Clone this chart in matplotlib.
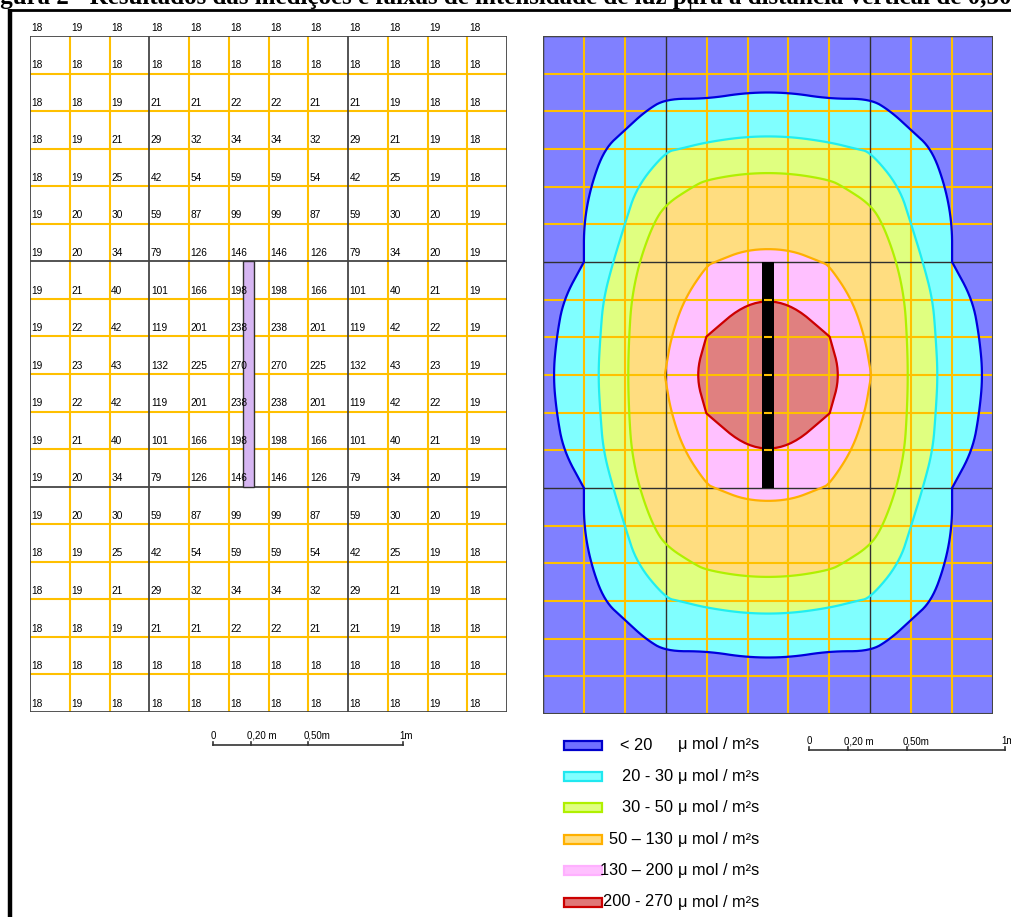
import numpy as np
import matplotlib
matplotlib.use("Agg")
import matplotlib.pyplot as plt
from matplotlib.patches import Rectangle, Polygon
import contourpy

# ---------------- data ----------------
title = ("Figura 2 - Resultados das medições e faixas de intensidade de luz "
         "para a distância vertical de 0,50 m")

row00 = [18, 19, 18, 18, 18, 18, 18, 18, 18, 18, 19, 18]
row01 = [18, 18, 18, 18, 18, 18, 18, 18, 18, 18, 18, 18]
row02 = [18, 18, 19, 21, 21, 22, 22, 21, 21, 19, 18, 18]
row03 = [18, 19, 21, 29, 32, 34, 34, 32, 29, 21, 19, 18]
row04 = [18, 19, 25, 42, 54, 59, 59, 54, 42, 25, 19, 18]
row05 = [19, 20, 30, 59, 87, 99, 99, 87, 59, 30, 20, 19]
row06 = [19, 20, 34, 79, 126, 146, 146, 126, 79, 34, 20, 19]
row07 = [19, 21, 40, 101, 166, 198, 198, 166, 101, 40, 21, 19]
row08 = [19, 22, 42, 119, 201, 238, 238, 201, 119, 42, 22, 19]
row09 = [19, 23, 43, 132, 225, 270, 270, 225, 132, 43, 23, 19]
row10 = [19, 22, 42, 119, 201, 238, 238, 201, 119, 42, 22, 19]
row11 = [19, 21, 40, 101, 166, 198, 198, 166, 101, 40, 21, 19]
row12 = [19, 20, 34, 79, 126, 146, 146, 126, 79, 34, 20, 19]
row13 = [19, 20, 30, 59, 87, 99, 99, 87, 59, 30, 20, 19]
row14 = [18, 19, 25, 42, 54, 59, 59, 54, 42, 25, 19, 18]
row15 = [18, 19, 21, 29, 32, 34, 34, 32, 29, 21, 19, 18]
row16 = [18, 18, 19, 21, 21, 22, 22, 21, 21, 19, 18, 18]
row17 = [18, 18, 18, 18, 18, 18, 18, 18, 18, 18, 18, 18]
row18 = [18, 19, 18, 18, 18, 18, 18, 18, 18, 18, 19, 18]
rows = [row00, row01, row02, row03, row04, row05, row06, row07, row08, row09,
        row10, row11, row12, row13, row14, row15, row16, row17, row18]

levels = [0, 20, 30, 50, 130, 200, 300]
band_labels = ["< 20", "20 - 30", "30 - 50", "50 – 130", "130 – 200", "200 - 270"]
unit = "μ mol / m²s"
scale_ticks = [0, 0.2, 0.5, 1.0]
scale_labels = ["0", "0,20 m", "0,50m", "1m"]

# ---------------- styles ----------------
fills = ["#8080ff", "#80ffff", "#e0ff80", "#ffdd80", "#ffc0ff", "#e08080"]
legend_fills = ["#7070ff", "#80ffff", "#e0ff80", "#ffdd80", "#ffc0ff", "#e07878"]
legend_edges = ["#0000cc", "#20e8f0", "#b0f000", "#ffb000", "#ffb0ff", "#cc0000"]
line_colors = ["#0000dd", "#20eef0", "#b0f000", "#ffb000", "#cc0000"]
ORANGE = "#ffc000"
DARK = "#454545"
FONT = "Liberation Sans"

values = np.array(rows, dtype=float)
nrow, ncol = values.shape

W, H = 1011, 917
fig = plt.figure(figsize=(W / 100, H / 100), dpi=100)


def box(x0, y0, x1, y1):
    return [x0 / W, 1 - y1 / H, (x1 - x0) / W, (y1 - y0) / H]


def smooth_closed(p, n=3):
    """Corner-cutting smoothing of a closed contour outline (drawing only)."""
    if np.allclose(p[0], p[-1]):
        p = p[:-1]
    for _ in range(n):
        nxt = np.roll(p, -1, axis=0)
        out = np.empty((2 * len(p), 2))
        out[0::2] = 0.75 * p + 0.25 * nxt
        out[1::2] = 0.25 * p + 0.75 * nxt
        p = out
    return p


# overlay axes in pixel units for frame, title, legend, scale bars
ov = fig.add_axes([0, 0, 1, 1])
ov.set_xlim(0, W)
ov.set_ylim(H, 0)
ov.axis("off")

ov.text(-22, 4, title, fontfamily="Liberation Serif", fontweight="bold",
        fontsize=18, ha="left", va="baseline")
ov.plot([10, 10], [9, H + 5], color="black", lw=3.2, solid_capstyle="butt")
ov.plot([8, W + 5], [10, 10], color="black", lw=2.0, solid_capstyle="butt")
ov.plot([690, 690], [-2, 10], color="black", lw=1.0)

# ---------------- left panel: measured values ----------------
axL = fig.add_axes(box(30, 36, 507, 712))
axL.set_xlim(0, ncol)
axL.set_ylim(nrow - 1, 0)
axL.axis("off")
dark_cols = [0, 3, 8, ncol]
dark_rows = [0, 6, 12, nrow - 1]
for i in range(ncol + 1):
    dk = i in dark_cols
    axL.axvline(i, color=DARK if dk else ORANGE, lw=1.3 if dk else 1.5,
                zorder=3 if dk else 2)
for j in range(nrow):
    dk = j in dark_rows
    axL.axhline(j, color=DARK if dk else ORANGE, lw=1.3 if dk else 1.5,
                zorder=3 if dk else 2)
axL.add_patch(Rectangle((5.5 - 0.13, 6), 0.26, 6, fc="#d6b6f2", ec="#303030",
                        lw=1.0, zorder=4))
for r in range(nrow):
    for c in range(ncol):
        axL.text(c + 0.04, r - 0.09, str(int(values[r, c])), fontsize=7.3,
                 fontfamily=FONT, ha="left", va="bottom", zorder=5)

# ---------------- right panel: contour bands ----------------
axR = fig.add_axes(box(543, 36, 993, 714))
axR.set_xlim(0, ncol - 1)
axR.set_ylim(nrow - 1, 0)
axR.axis("off")
X, Y = np.meshgrid(np.arange(ncol, dtype=float), np.arange(nrow, dtype=float))
# lowest band covers the whole field
axR.contourf(X, Y, values, levels=[levels[0], levels[-1]], colors=[fills[0]], zorder=1)
gen = contourpy.contour_generator(X, Y, values, line_type="Separate")
for k, lev in enumerate(levels[1:-1]):
    for seg in gen.lines(lev):
        pts = smooth_closed(seg, 3)
        axR.add_patch(Polygon(pts, closed=True, fc=fills[k + 1], ec="none",
                              zorder=1 + 0.01 * k))
        axR.add_patch(Polygon(pts, closed=True, fill=False, ec=line_colors[k],
                              lw=1.6, zorder=3 + 0.01 * k))
for i in range(ncol):
    dk = i in (0, 3, 8, ncol - 1)
    axR.axvline(i, color="#303030" if dk else ORANGE, lw=1.0 if dk else 1.5,
                zorder=2.5 if dk else 2)
for j in range(nrow):
    dk = j in dark_rows
    axR.axhline(j, color="#303030" if dk else ORANGE, lw=1.0 if dk else 1.5,
                zorder=2.5 if dk else 2)
axR.add_patch(Rectangle((5.5 - 0.15, 6), 0.3, 6, fc="black", ec="none", zorder=4))
for j in range(7, 12):
    axR.plot([5.5 - 0.1, 5.5 + 0.1], [j, j], color=ORANGE, lw=1.5,
             solid_capstyle="butt", zorder=5)
axR.add_patch(Rectangle((0, 0), ncol - 1, nrow - 1, fill=False, ec=DARK,
                        lw=1.5, zorder=6))

# ---------------- legend ----------------
for k, lab in enumerate(band_labels):
    y = 745 + k * 31.4
    ov.add_patch(Rectangle((564, y - 4.5), 38, 9, fc=legend_fills[k],
                           ec=legend_edges[k], lw=1.6))
    if k == 0:
        ov.text(620, y, lab, fontsize=11.8, fontfamily=FONT, ha="left", va="center")
    else:
        ov.text(673, y, lab, fontsize=11.8, fontfamily=FONT, ha="right", va="center")
    ov.text(678, y, unit, fontsize=11.8, fontfamily=FONT, ha="left", va="center")


# ---------------- scale bars ----------------
def scale_bar(x0, y, px_per_m):
    ov.plot([x0, x0 + px_per_m * scale_ticks[-1]], [y, y], color="#333333", lw=1.2)
    for t, lab in zip(scale_ticks, scale_labels):
        xt = x0 + px_per_m * t
        ov.plot([xt, xt], [y, y - 3.5], color="#333333", lw=1.2)
        ov.text(xt - 4 if t > 0 else xt, y - 6, lab, fontsize=7, fontfamily=FONT,
                ha="left" if t > 0 else "center", va="baseline")


scale_bar(213, 745, 190)
scale_bar(809, 750, 196)

fig.savefig("out.png", dpi=100)
